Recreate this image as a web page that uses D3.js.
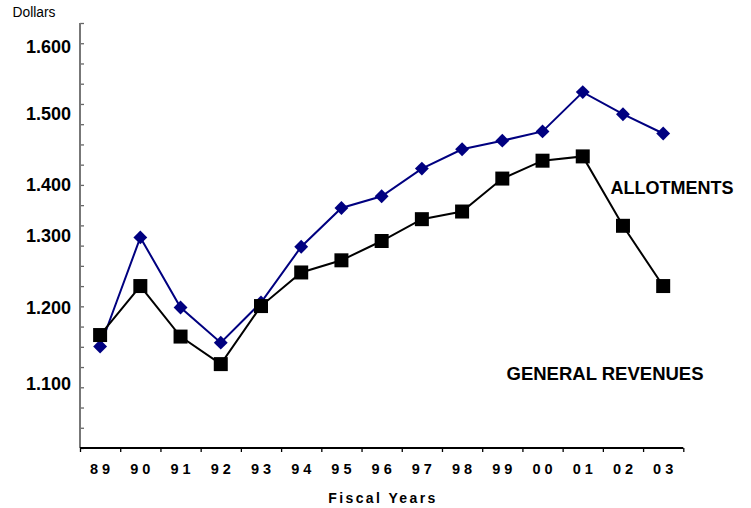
<!DOCTYPE html>
<html>
<head>
<meta charset="utf-8">
<script src="https://cdn.jsdelivr.net/npm/d3@7"></script>
<style>
  html, body { margin: 0; padding: 0; background: #fff; }
  svg { display: block; font-family: "Liberation Sans", Arial, sans-serif; }
</style>
</head>
<body>
<svg id="chart" width="751" height="508"></svg>
<script>
// Fiscal years and per-year values (dollars)
const years = ["89","90","91","92","93","94","95","96","97","98","99","00","01","02","03"];
const allotments = [1.149, 1.298, 1.200, 1.154, 1.207, 1.285, 1.355, 1.378, 1.423, 1.450, 1.462, 1.475, 1.532, 1.499, 1.472];
const generalRevenues = [1.164, 1.230, 1.162, 1.126, 1.202, 1.249, 1.266, 1.293, 1.333, 1.348, 1.409, 1.434, 1.440, 1.320, 1.230];
const yTickValues = [1.1, 1.2, 1.3, 1.4, 1.5, 1.6];
const yTickLabels = ["1.100", "1.200", "1.300", "1.400", "1.500", "1.600"];

(function () {
  const svg = d3.select("#chart");
  const plotLeft = 80, plotRight = 683.3, plotTop = 23, plotBottom = 448;

  // Category band for the years
  const x = d3.scaleBand().domain(years).range([plotLeft, plotRight]).padding(0);
  const xc = d => x(d) + x.bandwidth() / 2;

  // Value axis: piecewise linear through the labelled levels
  const y = d3.scaleLinear()
    .domain(yTickValues)
    .range([384, 307.5, 236, 185, 113.5, 46.7]);

  // Evenly spaced minor tick marks along the value axis
  const yMinor = d3.scaleLinear().domain([0, 21]).range([plotBottom, plotTop]);
  svg.append("g")
    .attr("transform", `translate(${plotLeft},0)`)
    .call(d3.axisLeft(yMinor).tickValues(d3.range(0, 22)).tickSize(-4).tickFormat(""))
    .call(g => g.select(".domain").remove())
    .call(g => g.selectAll(".tick line").attr("stroke", "#666").attr("stroke-width", 1.3));
  svg.append("line")
    .attr("x1", plotLeft).attr("x2", plotLeft).attr("y1", plotTop).attr("y2", plotBottom)
    .attr("stroke", "#777").attr("stroke-width", 2);

  // Value labels
  svg.append("g")
    .attr("transform", `translate(71,0)`)
    .call(d3.axisLeft(y).tickValues(yTickValues).tickSize(0).tickPadding(0)
      .tickFormat((d, i) => yTickLabels[i]))
    .call(g => g.select(".domain").remove())
    .call(g => g.selectAll("text")
      .attr("font-family", "'Liberation Sans', Arial, sans-serif")
      .attr("font-size", 18).attr("font-weight", "bold").attr("fill", "#000"));

  // Year axis: tick marks at band edges, labels at band centres
  const xEdge = d3.scaleLinear().domain([0, years.length]).range([plotLeft, plotRight]);
  svg.append("g")
    .attr("transform", `translate(0,${plotBottom})`)
    .call(d3.axisBottom(xEdge).tickValues(d3.range(0, years.length + 1)).tickSize(4).tickFormat(""))
    .call(g => g.select(".domain").remove())
    .call(g => g.selectAll(".tick line").attr("stroke", "#000").attr("stroke-width", 1.3));
  svg.append("line")
    .attr("x1", plotLeft).attr("x2", plotRight).attr("y1", plotBottom).attr("y2", plotBottom)
    .attr("stroke", "#000").attr("stroke-width", 2);

  svg.append("g").selectAll("text").data(years).join("text")
    .attr("x", d => xc(d) + 2)
    .attr("y", 474)
    .attr("text-anchor", "middle")
    .attr("font-size", 14.5).attr("font-weight", "bold")
    .attr("letter-spacing", 4)
    .text(d => d);

  svg.append("text")
    .attr("x", 383).attr("y", 503)
    .attr("text-anchor", "middle")
    .attr("font-size", 14).attr("font-weight", "bold")
    .attr("letter-spacing", 2.4)
    .text("Fiscal Years");

  svg.append("text")
    .attr("x", 12.5).attr("y", 16.7)
    .attr("font-size", 13.8)
    .text("Dollars");

  // Series lines
  const line = d3.line().x((d, i) => xc(years[i])).y(d => y(d));

  svg.append("path").datum(allotments)
    .attr("d", line).attr("fill", "none")
    .attr("stroke", "#000080").attr("stroke-width", 2);

  svg.append("path").datum(generalRevenues)
    .attr("d", line).attr("fill", "none")
    .attr("stroke", "#000").attr("stroke-width", 2);

  // Diamond markers (allotments)
  const diamond = d3.symbol().type(d3.symbolSquare).size(96);
  svg.append("g").selectAll("path").data(allotments).join("path")
    .attr("d", diamond)
    .attr("transform", (d, i) => `translate(${xc(years[i])},${y(d)}) rotate(45)`)
    .attr("fill", "#000080");

  // Square markers (general revenues)
  const square = d3.symbol().type(d3.symbolSquare).size(196);
  svg.append("g").selectAll("path").data(generalRevenues).join("path")
    .attr("d", square)
    .attr("transform", (d, i) => `translate(${xc(years[i])},${y(d)})`)
    .attr("fill", "#000");

  // Series names
  svg.append("text")
    .attr("x", 610.5).attr("y", 194)
    .attr("font-size", 18).attr("font-weight", "bold")
    .text("ALLOTMENTS");

  svg.append("text")
    .attr("x", 506.5).attr("y", 380)
    .attr("font-size", 18.5).attr("font-weight", "bold")
    .text("GENERAL REVENUES");
})();
</script>
</body>
</html>
